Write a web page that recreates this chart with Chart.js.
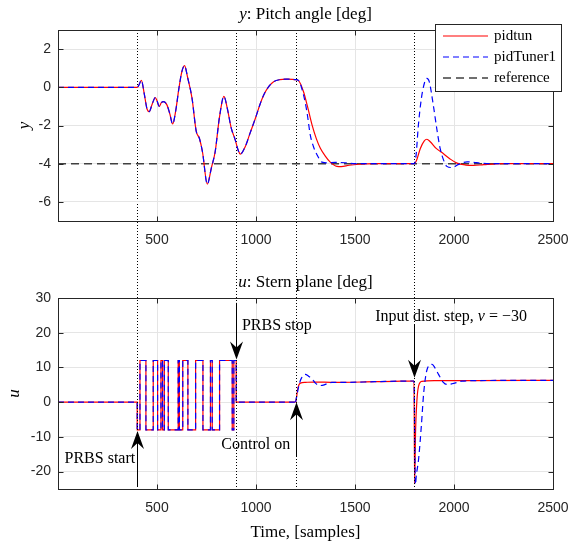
<!DOCTYPE html>
<html>
<head>
<meta charset="utf-8">
<script src="https://cdn.jsdelivr.net/npm/chart.js@4.4.0/dist/chart.umd.min.js"></script>
<style>
html, body { margin: 0; padding: 0; background: #fff; }
#wrap { position: relative; width: 584px; height: 547px; }
#wrap canvas { position: absolute; left: 0; top: 0; }
</style>
</head>
<body>
<div id="wrap">
  <canvas id="uChart" width="584" height="547"></canvas>
  <canvas id="yChart" width="584" height="547"></canvas>
</div>
<script>
// ---- data ----
var xTicks = [500, 1000, 1500, 2000, 2500];
var yTicks = [-6, -4, -2, 0, 2];
var uTicks = [-20, -10, 0, 10, 20, 30];
var eventTimes = [400, 900, 1200, 1800];

// pitch angle, same for both tunings until control is switched on
var yOpenTime = [0, 400, 410, 421, 435, 450, 461, 475, 491, 500, 511, 522, 533, 550, 565, 579, 595, 610, 625, 639,
  655, 677, 698, 714, 730, 754, 775, 794, 815, 838, 855, 875, 895, 910, 921, 946, 970, 997, 1020, 1039,
  1065, 1089, 1120, 1156, 1185, 1200];
var yOpen = [0, 0, 0.15, 0.37, -0.3, -1.15, -1.27, -0.9, -0.54, -0.7, -1.0, -0.8, -0.75, -0.92, -1.4, -1.92, -1.2, -0.1, 0.8, 1.13,
  0.5, -0.58, -2.3, -2.67, -3.4, -5.07, -4.2, -3.36, -1.6, -0.47, -1.1, -2.14, -2.75, -3.3, -3.5, -3.1, -2.4, -1.62, -0.9, -0.4,
  0.05, 0.29, 0.4, 0.43, 0.42, 0.4];

var yPidtunTime = [1215, 1240, 1260, 1283, 1305, 1325, 1350, 1375, 1409, 1430, 1470, 1520, 1600, 1800, 1810, 1830, 1850, 1863,
  1880, 1910, 1947, 1980, 2015, 2060, 2099, 2150, 2250, 2500];
var yPidtun = [0.35, -0.23, -1.0, -1.97, -2.7, -3.19, -3.6, -3.92, -4.14, -4.15, -4.08, -4.03, -4.0, -4.0, -3.85, -3.2, -2.8, -2.72,
  -2.85, -3.2, -3.48, -3.75, -3.97, -4.07, -4.09, -4.05, -4.0, -4.0];

var yTunerTime = [1215, 1240, 1257, 1274, 1290, 1308, 1333, 1360, 1400, 1450, 1500, 1800, 1808, 1820, 1835, 1850, 1863, 1875,
  1895, 1915, 1930, 1947, 1964, 1990, 2020, 2066, 2100, 2133, 2200, 2500];
var yTuner = [0.35, -0.4, -1.27, -2.49, -3.1, -3.53, -3.92, -3.96, -3.93, -3.95, -4.0, -4.0, -3.6, -2.0, -0.6, 0.2, 0.47, 0.3,
  -0.9, -2.3, -3.2, -3.8, -4.14, -4.2, -4.05, -3.9, -3.93, -3.97, -4.0, -4.0];

var refTime = [0, 2500];
var refValue = [-4, -4];

// stern plane: PRBS between the switching samples, then closed loop
var prbsEdge = [400, 414, 444, 481, 503, 520, 528, 537, 557, 607, 613, 630, 656, 695, 732, 770, 779, 816, 880, 888, 900];
var prbsLevel = [-8, 12, -8, 12, -8, 12, -8, 12, -8, 12, -8, 12, -8, 12, -8, 12, -8, 12, -8, 12];

var uPidtunTime = [1200, 1205, 1210, 1217, 1224, 1250, 1291, 1400, 1600, 1700, 1798, 1801, 1806, 1813, 1821, 1838, 1900, 2100, 2500];
var uPidtun = [0, 1.5, 3.6, 5.0, 5.5, 5.7, 5.8, 5.7, 5.9, 6.0, 6.1, -23.5, -8, 0.8, 4.6, 6.0, 6.2, 6.2, 6.3];

var uTunerTime = [1200, 1210, 1220, 1230, 1249, 1265, 1283, 1300, 1321, 1340, 1358, 1383, 1450, 1600, 1798, 1805, 1810, 1821, 1835,
  1847, 1864, 1889, 1905, 1922, 1945, 1964, 1990, 2040, 2100, 2500];
var uTuner = [0, 3.0, 5.5, 7.0, 8.0, 7.5, 6.7, 5.5, 4.8, 4.9, 5.3, 5.7, 5.7, 5.9, 6.1, -23.7, -21, -16.5, -6.9,
  2.7, 9.4, 10.9, 9.8, 8.0, 5.8, 5.1, 5.3, 6.05, 6.2, 6.3];

// annotation arrows (data coords) and their texts
var arrows = [
  { at: 400, from: -24.3, to: -8.3 },
  { at: 900, from: 28.6, to: 12.3 },
  { at: 1200, from: -15.5, to: 0 },
  { at: 1800, from: 22.4, to: 7 }
];
var notes = [
  { parts: [['PRBS start', false]], x: 390, y: -16.4, align: 'right' },
  { parts: [['PRBS stop', false]], x: 929, y: 21.9, align: 'left' },
  { parts: [['Control on', false]], x: 1173, y: -12.2, align: 'right' },
  { parts: [['Input dist. step, ', false], ['v', true], [' = \u221230', false]], x: 1602, y: 24.5, align: 'left' }
];

// ---- helpers ----
function pts(t, v) {
  return t.map(function (x, i) { return { x: x, y: v[i] }; });
}
function prbsPts() {
  var p = [{ x: 0, y: 0 }, { x: prbsEdge[0], y: 0 }];
  for (var i = 0; i < prbsLevel.length; i++) {
    p.push({ x: prbsEdge[i], y: prbsLevel[i] });
    p.push({ x: prbsEdge[i + 1], y: prbsLevel[i] });
  }
  p.push({ x: prbsEdge[prbsEdge.length - 1], y: 0 });
  p.push({ x: 1200, y: 0 });
  return p;
}

var ink = '#262626';
var gridCol = '#e5e5e5';
var serif = 'Liberation Serif';
var tickFont = { family: 'Liberation Sans', size: 14 };
var RED = 'rgb(255,0,0)', BLUE = 'rgb(0,0,255)', GREY = 'rgb(64,64,64)';

function mixedText(c, parts, x, y, align, size) {
  var w = 0;
  parts.forEach(function (p) {
    c.font = (p[1] ? 'italic ' : '') + size + 'px "' + serif + '"';
    w += c.measureText(p[0]).width;
  });
  var sx = align === 'center' ? x - w / 2 : (align === 'right' ? x - w : x);
  c.textAlign = 'left';
  c.textBaseline = 'middle';
  c.fillStyle = '#000';
  parts.forEach(function (p) {
    c.font = (p[1] ? 'italic ' : '') + size + 'px "' + serif + '"';
    c.fillText(p[0], sx, y);
    sx += c.measureText(p[0]).width;
  });
}

function axisOpts(ticks, min, max, fitSize, isX) {
  return {
    type: 'linear', min: min, max: max,
    afterBuildTicks: function (s) { s.ticks = ticks.map(function (v) { return { value: v }; }); },
    afterFit: function (s) { if (isX) { s.height = fitSize; } else { s.width = fitSize; } },
    grid: { color: gridCol, drawTicks: false },
    border: { display: false },
    ticks: { font: tickFont, color: ink, padding: isX ? 11 : 7, maxRotation: 0, autoSkip: false,
      callback: function (v) { return String(v); } }
  };
}

// box + inward ticks, titles and axis labels
function framePlugin(title, ylab, ylabX, showXLabel) {
  return {
    id: 'frame',
    afterDatasetsDraw: function (chart) {
      var a = chart.chartArea, c = chart.ctx, sx = chart.scales.x, sy = chart.scales.y;
      c.save();
      c.strokeStyle = ink; c.lineWidth = 1; c.setLineDash([]);
      var L = Math.round(a.left) + 0.5, R = Math.round(a.right) + 0.5, T = Math.round(a.top) + 0.5, B = Math.round(a.bottom) + 0.5;
      c.strokeRect(L, T, R - L, B - T);
      c.beginPath();
      sx.ticks.forEach(function (t) {
        var px = Math.round(sx.getPixelForValue(t.value)) + 0.5;
        c.moveTo(px, B); c.lineTo(px, B - 5);
        c.moveTo(px, T); c.lineTo(px, T + 5);
      });
      sy.ticks.forEach(function (t) {
        var py = Math.round(sy.getPixelForValue(t.value)) + 0.5;
        c.moveTo(L, py); c.lineTo(L + 5, py);
        c.moveTo(R, py); c.lineTo(R - 5, py);
      });
      c.stroke();
      mixedText(c, title, (a.left + a.right) / 2, a.top - 15, 'center', 17);
      c.save();
      c.translate(ylabX, (a.top + a.bottom) / 2);
      c.rotate(-Math.PI / 2);
      mixedText(c, [[ylab, true]], 0, 0, 'center', 17);
      c.restore();
      if (showXLabel) {
        mixedText(c, [['Time, [samples]', false]], (a.left + a.right) / 2, a.bottom + 44, 'center', 17);
      }
      c.restore();
    }
  };
}

var legendPlugin = {
  id: 'boxLegend',
  afterDraw: function (chart) {
    var c = chart.ctx;
    c.save();
    c.fillStyle = '#fff';
    c.fillRect(435.5, 24.5, 126, 67);
    c.strokeStyle = ink; c.lineWidth = 1;
    c.strokeRect(435.5, 24.5, 126, 67);
    chart.data.datasets.forEach(function (d, i) {
      var y = 36 + i * 21;
      c.beginPath();
      c.strokeStyle = d.borderColor;
      c.lineWidth = d.borderWidth;
      c.setLineDash(d.borderDash || []);
      c.moveTo(443, y); c.lineTo(488, y);
      c.stroke();
      c.setLineDash([]);
      mixedText(c, [[d.label, false]], 494, y, 'left', 15);
    });
    c.restore();
  }
};

var yChart;
var eventPlugin = {
  id: 'events',
  afterDraw: function (chart) {
    var c = chart.ctx, sx = chart.scales.x, sy = chart.scales.y;
    var top = yChart ? yChart.chartArea.top : 30;
    c.save();
    c.strokeStyle = '#000'; c.lineWidth = 1;
    c.setLineDash([1, 2]);
    c.beginPath();
    eventTimes.forEach(function (t) {
      var px = Math.round(sx.getPixelForValue(t)) + 0.5;
      c.moveTo(px, top); c.lineTo(px, chart.chartArea.bottom);
    });
    c.stroke();
    c.setLineDash([]);
    arrows.forEach(function (ar) {
      var px = Math.round(sx.getPixelForValue(ar.at)) + 0.5;
      var y0 = sy.getPixelForValue(ar.from), y1 = sy.getPixelForValue(ar.to);
      var dir = y1 > y0 ? 1 : -1;
      c.beginPath();
      c.moveTo(px, y0); c.lineTo(px, y1 - dir * 10);
      c.stroke();
      c.beginPath();
      c.fillStyle = '#000';
      c.moveTo(px, y1);
      c.lineTo(px - 6.5, y1 - dir * 18);
      c.lineTo(px, y1 - dir * 12);
      c.lineTo(px + 6.5, y1 - dir * 18);
      c.closePath();
      c.fill();
    });
    notes.forEach(function (n) {
      mixedText(c, n.parts, sx.getPixelForValue(n.x), sy.getPixelForValue(n.y), n.align, 16);
    });
    c.restore();
  }
};

var common = {
  responsive: false, animation: false, devicePixelRatio: 1,
  elements: { point: { radius: 0 }, line: { tension: 0, cubicInterpolationMode: 'monotone', borderCapStyle: 'butt' } },
  plugins: { legend: { display: false }, tooltip: { enabled: false }, title: { display: false } },
  events: []
};

yChart = new Chart(document.getElementById('yChart'), {
  type: 'line',
  data: {
    datasets: [
      { label: 'pidtun', data: pts(yOpenTime.concat(yPidtunTime), yOpen.concat(yPidtun)), borderColor: RED, borderWidth: 1.2, order: 2 },
      { label: 'pidTuner1', data: pts(yOpenTime.concat(yTunerTime), yOpen.concat(yTuner)), borderColor: BLUE, borderWidth: 1.2, borderDash: [6, 4], order: 1 },
      { label: 'reference', data: pts(refTime, refValue), borderColor: GREY, borderWidth: 1.5, borderDash: [8, 5], order: 3 }
    ]
  },
  options: Object.assign({}, common, {
    layout: { padding: { top: 30, right: 31, left: 0, bottom: 0 } },
    scales: {
      x: axisOpts(xTicks, 0, 2500, 326, true),
      y: axisOpts(yTicks, -7, 3, 58, false)
    }
  }),
  plugins: [framePlugin([['y', true], [': Pitch angle [deg]', false]], 'y', 25, false), legendPlugin]
});

new Chart(document.getElementById('uChart'), {
  type: 'line',
  data: {
    datasets: [
      { label: 'pidtun', data: prbsPts(), borderColor: RED, borderWidth: 1.2, cubicInterpolationMode: 'default', order: 4 },
      { label: 'pidtun', data: pts(uPidtunTime, uPidtun), borderColor: RED, borderWidth: 1.2, order: 3 },
      { label: 'pidTuner1', data: prbsPts(), borderColor: BLUE, borderWidth: 1.2, borderDash: [6, 4], cubicInterpolationMode: 'default', order: 2 },
      { label: 'pidTuner1', data: pts(uTunerTime, uTuner), borderColor: BLUE, borderWidth: 1.2, borderDash: [6, 4], order: 1 }
    ]
  },
  options: Object.assign({}, common, {
    layout: { padding: { top: 298, right: 31, left: 0, bottom: 0 } },
    scales: {
      x: axisOpts(xTicks, 0, 2500, 58, true),
      y: axisOpts(uTicks, -25, 30, 58, false)
    }
  }),
  plugins: [framePlugin([['u', true], [': Stern plane [deg]', false]], 'u', 15, true), eventPlugin]
});
// redraw so the event lines can use the top chart's area
</script>
</body>
</html>
